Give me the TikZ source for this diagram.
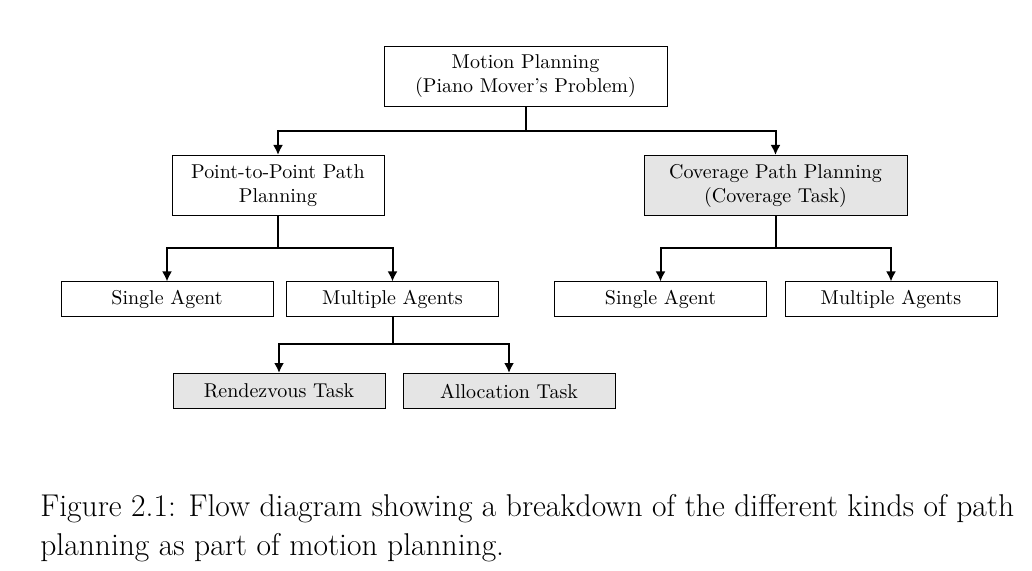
\documentclass[tikz,border=0pt]{standalone}
\usetikzlibrary{arrows.meta}
\begin{document}
\begin{tikzpicture}[x=0.5pt,y=-0.5pt,
  box/.style={draw, line width=0.5pt, align=center, inner sep=0pt,
    font=\fontsize{10}{12}\selectfont, minimum height=17.5pt, minimum width=106pt},
  tall/.style={minimum height=30pt},
  shaded/.style={fill=black!10},
  conn/.style={line width=1pt},
  arr/.style={conn, -{Latex[length=5pt,width=5pt]}},
  capt/.style={anchor=base west, inner sep=0pt, font=\fontsize{15.75}{20}\selectfont}]
\useasboundingbox (0,0) rectangle (1032,571);
\node[box, tall, minimum width=141.5pt] (mp) at (525.5,76.5) {Motion Planning\\(Piano Mover's Problem)};
\node[box, tall, minimum width=106pt] (ptp) at (278,185.5) {Point-to-Point Path\\Planning};
\node[box, tall, shaded, minimum width=131.5pt] (cpp) at (775.5,185.5) {Coverage Path Planning\\(Coverage Task)};
\node[box] (sa1) at (167,299.5) {Single Agent};
\node[box] (ma1) at (392.5,299.5) {Multiple Agents};
\node[box] (sa2) at (660.5,299.5) {Single Agent};
\node[box] (ma2) at (891,299.5) {Multiple Agents};
\node[box, shaded] (rt) at (279,391) {Rendezvous Task};
\node[box, shaded] (at) at (509,391) {Allocation Task};
\coordinate (j1) at (525.5,131);
\coordinate (j2) at (278,248);
\coordinate (j3) at (775.5,248);
\coordinate (j4) at (392.5,344);
\draw[conn] (mp.south) -- (j1);
\draw[arr] (j1) -| (ptp.north);
\draw[arr] (j1) -| (cpp.north);
\draw[conn] (ptp.south) -- (j2);
\draw[arr] (j2) -| (sa1.north);
\draw[arr] (j2) -| (ma1.north);
\draw[conn] (cpp.south) -- (j3);
\draw[arr] (j3) -| (sa2.north);
\draw[arr] (j3) -| (ma2.north);
\draw[conn] (ma1.south) -- (j4);
\draw[arr] (j4) -| (rt.north);
\draw[arr] (j4) -| (at.north);
\node[capt] (c1) at (40,516) {Figure 2.1: Flow diagram showing a breakdown of the different kinds of path};
\node[capt] (c2) at (40,555) {planning as part of motion planning.};
\end{tikzpicture}
\end{document}
